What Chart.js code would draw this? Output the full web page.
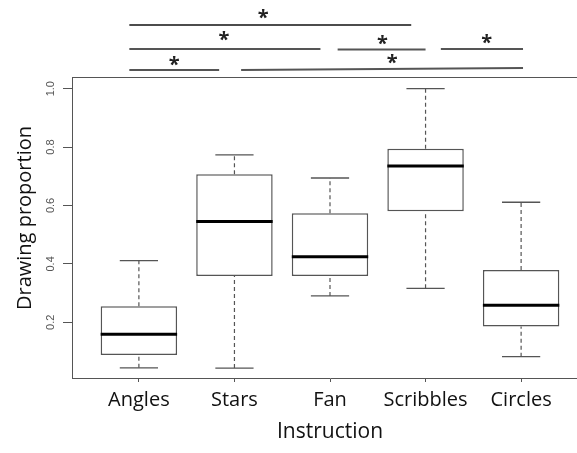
<!DOCTYPE html>
<html>
<head>
<meta charset="utf-8">
<script src="https://cdn.jsdelivr.net/npm/chart.js@4"></script>
<style>
html, body { margin: 0; padding: 0; background: #fff; overflow: hidden; }
#wrap { width: 600px; height: 453px; }
</style>
</head>
<body>
<div id="wrap"><canvas id="boxChart"></canvas></div>
<script>
// Dados
const categories = ["Angles", "Stars", "Fan", "Scribbles", "Circles"];
const whiskerLow = [0.044, 0.043, 0.290, 0.316, 0.082];
const q1 = [0.088, 0.358, 0.358, 0.580, 0.185];
const median = [0.159, 0.545, 0.424, 0.735, 0.258];
const q3 = [0.255, 0.707, 0.573, 0.794, 0.379];
const whiskerHigh = [0.411, 0.773, 0.694, 1.000, 0.611];
const yTicks = [0.2, 0.4, 0.6, 0.8, 1.0];

// barras de significância (x em unidades de grupo, y acima do gráfico)
const sigX0 = [0.90, 0.90, 3.08, 4.16, 0.90, 2.07];
const sigX1 = [3.85, 2.90, 4.00, 5.02, 1.84, 5.02];
const sigY0 = [1.218, 1.136, 1.134, 1.136, 1.064, 1.064];
const sigY1 = [1.218, 1.136, 1.134, 1.136, 1.064, 1.071];
const starX = [2.30, 1.89, 3.55, 4.64, 1.37, 3.65];
const starY = [1.259, 1.184, 1.170, 1.173, 1.098, 1.105];

const lineGrey = '#555';

function segments(x0, x1, y0, y1) {
    const pts = [];
    for (let i = 0; i < x0.length; i++) {
        pts.push({ x: x0[i], y: y0[i] }, { x: x1[i], y: y1[i] }, { x: x1[i], y: null });
    }
    return pts;
}

const whiskerPts = [];
const capPts = [];
const medianPts = [];
categories.forEach((c, i) => {
    const x = i + 1;
    whiskerPts.push({ x: x, y: q3[i] }, { x: x, y: whiskerHigh[i] }, { x: x, y: null });
    whiskerPts.push({ x: x, y: whiskerLow[i] }, { x: x, y: q1[i] }, { x: x, y: null });
    capPts.push({ x: x - 0.2, y: whiskerHigh[i] }, { x: x + 0.2, y: whiskerHigh[i] }, { x: x, y: null });
    capPts.push({ x: x - 0.2, y: whiskerLow[i] }, { x: x + 0.2, y: whiskerLow[i] }, { x: x, y: null });
    medianPts.push({ x: x - 0.4, y: median[i] }, { x: x + 0.4, y: median[i] }, { x: x, y: null });
});

// textos e moldura desenhados sobre as escalas do Chart.js
const extras = {
    id: 'extras',
    afterDatasetsDraw(chart) {
        const { ctx, chartArea, scales } = chart;
        ctx.save();
        ctx.strokeStyle = lineGrey;
        ctx.lineWidth = 1;
        ctx.beginPath();
        ctx.moveTo(chartArea.left, chartArea.top + 0.5);
        ctx.lineTo(chartArea.right, chartArea.top + 0.5);
        ctx.stroke();

        // rótulos do eixo y (verticais, como no R)
        ctx.fillStyle = '#555';
        ctx.font = '11px "Liberation Sans"';
        ctx.textAlign = 'center';
        ctx.textBaseline = 'middle';
        yTicks.forEach(v => {
            ctx.save();
            ctx.translate(51, scales.y.getPixelForValue(v));
            ctx.rotate(-Math.PI / 2);
            ctx.fillText(v.toFixed(1), 0, 0);
            ctx.restore();
        });

        // título do eixo y
        ctx.save();
        ctx.fillStyle = '#111';
        ctx.font = '20px "Open Sans"';
        ctx.translate(25, 218);
        ctx.rotate(-Math.PI / 2);
        ctx.fillText('Drawing proportion', 0, 0);
        ctx.restore();

        // asteriscos
        ctx.fillStyle = '#222';
        ctx.font = 'bold 20px "Open Sans"';
        starX.forEach((x, i) => {
            ctx.fillText('*', scales.x.getPixelForValue(x), scales.y.getPixelForValue(starY[i]) + 5);
        });
        ctx.restore();
    }
};

new Chart(document.getElementById('boxChart'), {
    type: 'bar',
    data: {
        datasets: [
            {
                type: 'bar',
                data: categories.map((c, i) => ({ x: i + 1, y: [q1[i], q3[i]] })),
                backgroundColor: '#fff',
                borderColor: lineGrey,
                borderWidth: 1.5,
                borderSkipped: false,
                barPercentage: 0.8,
                categoryPercentage: 1,
                order: 3
            },
            {
                type: 'line',
                data: whiskerPts,
                borderColor: lineGrey,
                borderWidth: 1.2,
                borderDash: [4, 3],
                order: 4
            },
            {
                type: 'line',
                data: capPts,
                borderColor: lineGrey,
                borderWidth: 1.3,
                order: 4
            },
            {
                type: 'line',
                data: medianPts,
                borderColor: '#000',
                borderWidth: 3,
                order: 1
            },
            {
                type: 'line',
                data: segments(sigX0.slice(0, 1), sigX1.slice(0, 1), sigY0.slice(0, 1), sigY1.slice(0, 1)),
                borderColor: '#111',
                borderWidth: 1.5,
                clip: false,
                order: 1
            },
            {
                type: 'line',
                data: segments(sigX0.slice(1), sigX1.slice(1), sigY0.slice(1), sigY1.slice(1)),
                borderColor: lineGrey,
                borderWidth: 2,
                clip: false,
                order: 1
            }
        ]
    },
    options: {
        responsive: true,
        maintainAspectRatio: false,
        animation: false,
        events: [],
        layout: { padding: { top: 77, right: 12, left: 0, bottom: 0 } },
        elements: { point: { radius: 0 }, line: { tension: 0 } },
        plugins: {
            legend: { display: false },
            tooltip: { enabled: false },
            title: { display: false }
        },
        scales: {
            x: {
                type: 'linear',
                min: 0.3,
                max: 5.7,
                offset: false,
                afterBuildTicks: s => { s.ticks = categories.map((c, i) => ({ value: i + 1 })); },
                afterFit: s => { s.height = 75; },
                grid: { display: true, drawOnChartArea: false, offset: false, tickLength: 4, color: lineGrey },
                border: { display: true, color: lineGrey, width: 1 },
                ticks: {
                    autoSkip: false,
                    maxRotation: 0,
                    padding: 6,
                    color: '#111',
                    font: { family: 'Open Sans', size: 20 },
                    callback: v => categories[v - 1]
                },
                title: {
                    display: true,
                    text: 'Instruction',
                    color: '#111',
                    font: { family: 'Open Sans', size: 21 },
                    padding: { top: 0, bottom: 8 }
                }
            },
            y: {
                type: 'linear',
                min: 0.009,
                max: 1.04,
                afterBuildTicks: s => { s.ticks = yTicks.map(v => ({ value: v })); },
                afterFit: s => { s.width = 72; },
                grid: { display: true, drawOnChartArea: false, tickLength: 9, color: lineGrey },
                border: { display: true, color: lineGrey, width: 1 },
                ticks: { display: false }
            }
        }
    },
    plugins: [extras]
});
</script>
</body>
</html>
